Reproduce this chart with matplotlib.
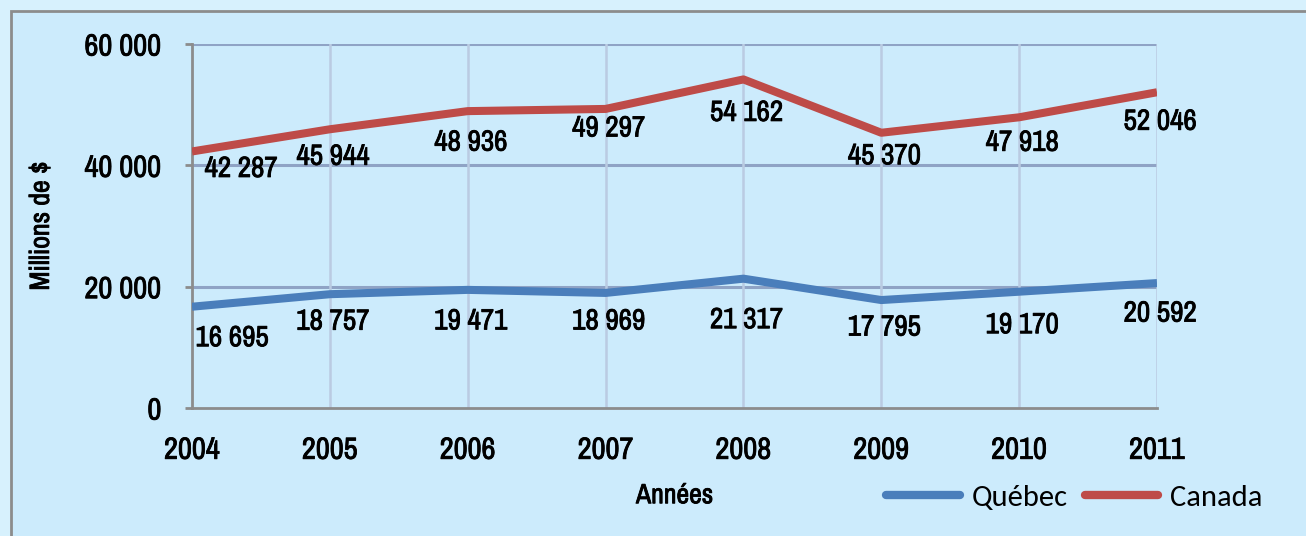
import matplotlib
matplotlib.use("Agg")
import matplotlib.pyplot as plt
import matplotlib.patheffects as pe
from matplotlib.patches import Rectangle
from matplotlib import font_manager

years = [2004, 2005, 2006, 2007, 2008, 2009, 2010, 2011]
quebec = [16695, 18757, 19471, 18969, 21317, 17795, 19170, 20592]
canada = [42287, 45944, 48936, 49297, 54162, 45370, 47918, 52046]
y_ticks = [0, 20000, 40000, 60000]

# label offsets below each point (pixels), tuned to the original placement
q_dy = [31, 27, 31, 28, 41, 27, 33, 30]
c_dy = [17, 27, 31, 19, 33, 23, 25, 29]

names = {f.name for f in font_manager.fontManager.ttflist}


def pick(cands):
    for c in cands:
        if c in names:
            return c
    return "DejaVu Sans"


NARROW = pick(["Liberation Sans Narrow", "Arial Narrow", "Archivo Narrow", "PT Sans Narrow",
               "Roboto Condensed", "IBM Plex Sans Condensed", "Open Sans Condensed"])
LEG = pick(["Carlito", "Calibri", "Lato"])
LEG_SIZE = 22 if LEG in ("Carlito", "Calibri") else 20

# the narrow face has no bold cut, so thicken it with a thin stroke
BOLD = [pe.withStroke(linewidth=0.6, foreground="black")]
TXT = dict(family=NARROW, fontweight="bold", path_effects=BOLD)

BLUE = "#4A7EBB"
RED = "#BE4B48"


def fmt(v):
    return f"{v:,}".replace(",", " ")


fig = plt.figure(figsize=(13.06, 5.36), dpi=100)
fig.patch.set_facecolor("#D7F1FD")
fig.patches.append(Rectangle((11 / 1306, -0.1), 1.2, 1 - 11 / 536 + 0.1,
                             transform=fig.transFigure, facecolor="#CCEBFC",
                             edgecolor="#8C8C8C", lw=2, zorder=-5))

ax = fig.add_axes([192 / 1306, 1 - 408 / 536, (1157 - 192) / 1306, (408 - 44) / 536])
ax.set_facecolor("none")
ax.set_xlim(2004, 2011)
ax.set_ylim(0, 60000)

for y in y_ticks[1:]:
    ax.axhline(y, color="#8FA3C5", lw=2.2, zorder=1)
for x in years[1:]:
    ax.axvline(x, color="#BACBE2", lw=1.8, zorder=1)

ax.plot(years, quebec, color=BLUE, lw=5.8, solid_capstyle="butt", zorder=3, label="Québec")
ax.plot(years, canada, color=RED, lw=5.8, solid_capstyle="butt", zorder=3, label="Canada")

for i, (x, v) in enumerate(zip(years, quebec)):
    dx = 40 if i == 0 else 3
    ax.annotate(fmt(v), (x, v), xytext=(dx * 0.72, -q_dy[i] * 0.72), textcoords="offset points",
                ha="center", va="center", fontsize=21, zorder=4, **TXT)
for i, (x, v) in enumerate(zip(years, canada)):
    dx = 49 if i == 0 else 3
    ax.annotate(fmt(v), (x, v), xytext=(dx * 0.72, -c_dy[i] * 0.72), textcoords="offset points",
                ha="center", va="center", fontsize=21, zorder=4, **TXT)

for s in ["top", "right"]:
    ax.spines[s].set_visible(False)
for s in ["left", "bottom"]:
    ax.spines[s].set_color("#8C8C8C")
    ax.spines[s].set_linewidth(2)

ax.set_yticks(y_ticks)
ax.set_yticklabels([fmt(v) for v in y_ticks], fontsize=22, **TXT)
ax.set_xticks(years)
ax.set_xticklabels([str(y) for y in years], fontsize=22, **TXT)
ax.tick_params(axis="y", length=5, width=2, color="#8C8C8C", pad=17)
ax.tick_params(axis="x", length=0, pad=20)

ax.set_ylabel("Millions de $", fontsize=20, labelpad=22, **TXT)
ax.set_xlabel("Années", fontsize=20, labelpad=14, **TXT)

leg = ax.legend(loc="lower right", bbox_to_anchor=(1290 / 1306, -2 / 536),
                bbox_transform=fig.transFigure, ncol=2, frameon=False,
                prop={"family": LEG, "size": LEG_SIZE}, handlelength=2.4, columnspacing=0.55,
                handletextpad=0.4)
for h in leg.get_lines():
    h.set_linewidth(6)
    h.set_solid_capstyle("round")

fig.savefig("out.png", dpi=100, facecolor=fig.get_facecolor())
